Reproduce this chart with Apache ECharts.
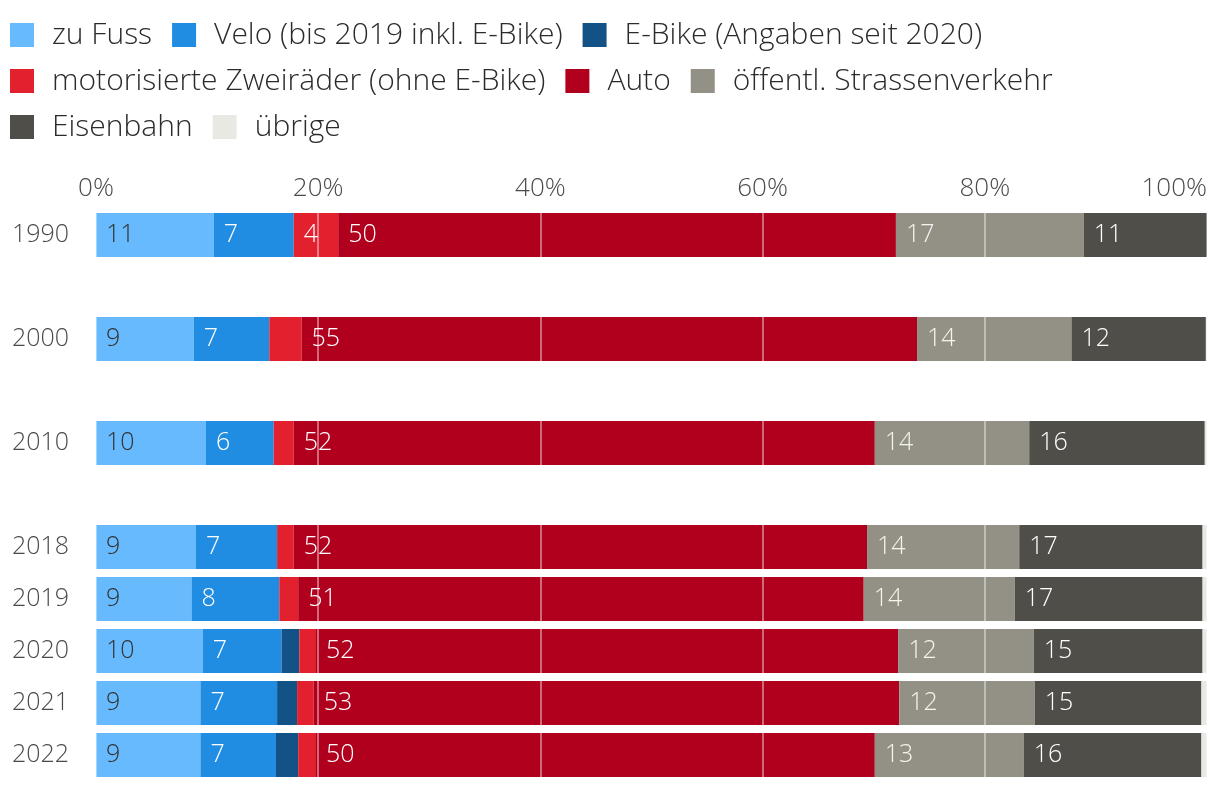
<!DOCTYPE html>
<html>
<head>
<meta charset="utf-8">
<script src="https://cdn.jsdelivr.net/npm/echarts@6/dist/echarts.min.js"></script>
<style>
html,body{margin:0;padding:0;background:#fff;}
#chart{width:1220px;height:790px;}
</style>
</head>
<body>
<div id="chart"></div>
<script>
// Categories ('' = spacer rows between decades)
const years = ['1990', '', '2000', '', '2010', '', '2018', '2019', '2020', '2021', '2022'];

// Shares in percent
const zuFuss    = [10.6, null, 8.8, null, 9.9, null, 9.0, 8.6, 9.6, 9.4, 9.4];
const velo      = [7.2, null, 6.8, null, 6.1, null, 7.3, 7.9, 7.1, 6.9, 6.8];
const eBike     = [null, null, null, null, null, null, null, null, 1.6, 1.8, 2.0];
const motoZwei  = [4.0, null, 2.9, null, 1.8, null, 1.5, 1.7, 1.5, 1.5, 1.6];
const auto      = [50.2, null, 55.4, null, 52.3, null, 51.6, 50.9, 52.4, 52.7, 50.3];
const oev       = [16.9, null, 13.9, null, 13.9, null, 13.7, 13.6, 12.2, 12.2, 13.4];
const eisenbahn = [11.1, null, 12.1, null, 15.8, null, 16.5, 16.9, 15.2, 15.0, 16.0];
const uebrige   = [0, null, 0.1, null, 0.2, null, 0.4, 0.4, 0.4, 0.5, 0.5];

const seriesNames = [
  'zu Fuss',
  'Velo (bis 2019 inkl. E-Bike)',
  'E-Bike (Angaben seit 2020)',
  'motorisierte Zweiräder (ohne E-Bike)',
  'Auto',
  'öffentl. Strassenverkehr',
  'Eisenbahn',
  'übrige'
];
const seriesData = [zuFuss, velo, eBike, motoZwei, auto, oev, eisenbahn, uebrige];
const seriesColors = ['#66bafd', '#208de2', '#135286', '#e3202e', '#b0001e', '#939085', '#4f4e49', '#e9e9e3'];
const labelColors  = ['#333333', '#ffffff', '#ffffff', '#ffffff', '#ffffff', '#f4f4f0', '#ffffff', '#333333'];

const xTicks = { min: 0, max: 100, interval: 20 };

const FONT = '"Open Sans", "Noto Sans", sans-serif';

const chart = echarts.init(document.getElementById('chart'), null, { renderer: 'canvas' });

const series = seriesNames.map((name, i) => ({
  name: name,
  type: 'bar',
  stack: 'total',
  barWidth: 44,
  data: seriesData[i],
  itemStyle: { color: seriesColors[i] },
  emphasis: { disabled: true },
  label: {
    show: true,
    position: 'insideLeft',
    distance: 10,
    color: labelColors[i],
    fontFamily: FONT,
    fontWeight: 300,
    fontSize: 25,
    formatter: p => (p.value == null || p.value < 3.5) ? '' : String(Math.round(p.value))
  }
}));

const legendBase = {
  left: 10,
  padding: 0,
  itemWidth: 24,
  itemHeight: 24,
  itemGap: 20,
  icon: 'rect',
  selectedMode: false,
  textStyle: { fontFamily: FONT, fontWeight: 300, fontSize: 30, color: '#2b2b2b', padding: [0, 0, 0, 13], lineHeight: 24 }
};

chart.setOption({
  animation: false,
  backgroundColor: '#ffffff',
  legend: [
    Object.assign({}, legendBase, { top: 20, data: seriesNames.slice(0, 3) }),
    Object.assign({}, legendBase, { top: 66, data: seriesNames.slice(3, 6) }),
    Object.assign({}, legendBase, { top: 112, data: seriesNames.slice(6, 8) })
  ],
  grid: { left: 96, right: 13, top: 209, bottom: 9, containLabel: false },
  xAxis: {
    type: 'value',
    position: 'top',
    min: xTicks.min,
    max: xTicks.max,
    interval: xTicks.interval,
    z: 5,
    axisLine: { show: false },
    axisTick: { show: false },
    splitLine: { show: true, lineStyle: { color: 'rgba(255,255,255,0.55)', width: 1.5 } },
    axisLabel: {
      formatter: '{value}%',
      fontFamily: FONT,
      fontWeight: 300,
      fontSize: 26,
      color: '#4a4a4a',
      margin: 7,
      alignMaxLabel: 'right'
    }
  },
  yAxis: {
    type: 'category',
    inverse: true,
    data: years,
    axisLine: { show: false },
    axisTick: { show: false },
    splitLine: { show: false },
    axisLabel: {
      fontFamily: FONT,
      fontWeight: 300,
      fontSize: 25,
      color: '#4a4a4a',
      align: 'left',
      margin: 84,
      padding: [3, 0, 0, 0]
    }
  },
  series: series
});
</script>
</body>
</html>
